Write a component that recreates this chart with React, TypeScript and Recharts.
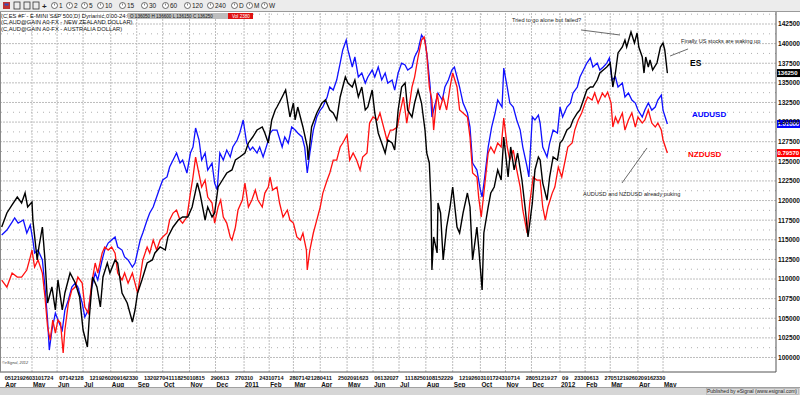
import React from 'react';
import { LineChart, Line, XAxis, YAxis, ReferenceLine } from 'recharts';

const FONT = '"Liberation Sans", Arial, sans-serif';

// x = calendar days since Monday 2010-03-29
const ES_POINTS: [number, number][] = [
  [0,1166.3],[6,1184.2],[12,1194.4],[18,1204.5],[23,1196.9],[27,1209.6],[30,1191.8],[35,1198.2],[36,1175.2],[41,1124.3],
  [43,1140.8],[47,1166.3],[50,1124.3],[53,1069.5],[58,1089.9],[62,1060.5],[65,1098.8],[70,1060.5],[73,1082.2],[79,1107.7],
  [85,1094.9],[90,1077.1],[94,1035.0],[99,1013.4],[101,1047.8],[105,1102.6],[110,1089.9],[114,1064.4],[117,1102.6],[122,1120.4],
  [125,1107.7],[131,1124.3],[134,1120.4],[139,1082.2],[145,1069.5],[151,1045.2],[154,1060.5],[157,1082.2],[162,1098.8],[168,1120.4],
  [174,1124.3],[177,1133.2],[183,1140.8],[189,1137.0],[192,1153.6],[198,1166.3],[204,1175.2],[209,1179.1],[215,1179.1],[220,1191.8],
  [226,1222.4],[229,1209.6],[235,1175.2],[238,1191.8],[243,1179.1],[246,1184.2],[250,1217.3],[255,1226.2],[260,1235.1],[266,1239.0],
  [270,1251.7],[275,1255.5],[281,1260.6],[285,1273.4],[290,1281.0],[295,1289.9],[301,1293.8],[304,1286.1],[308,1273.4],[312,1302.7],
  [316,1315.4],[318,1319.2],[324,1332.0],[328,1340.9],[333,1306.5],[337,1324.3],[339,1302.7],[342,1319.2],[348,1293.8],[353,1268.3],
  [354,1251.7],[358,1293.8],[364,1311.6],[370,1324.3],[374,1328.2],[379,1315.4],[383,1311.6],[387,1302.7],[391,1332.0],[397,1357.5],
  [400,1349.8],[405,1344.7],[408,1353.6],[412,1332.0],[416,1344.7],[420,1315.4],[423,1319.2],[428,1340.9],[431,1311.6],[435,1286.1],
  [439,1273.4],[443,1260.6],[446,1277.2],[451,1273.4],[454,1264.4],[458,1315.4],[462,1344.7],[466,1349.8],[469,1315.4],[474,1306.5],
  [477,1324.3],[481,1340.9],[485,1324.3],[489,1289.9],[491,1260.6],[494,1247.9],[496,1196.9],[497,1111.5],[499,1153.6],[503,1133.2],
  [504,1196.9],[507,1184.2],[510,1124.3],[514,1166.3],[518,1191.8],[521,1217.3],[526,1166.3],[529,1158.7],[533,1184.2],[538,1209.6],
  [541,1191.8],[544,1124.3],[549,1166.3],[551,1140.8],[555,1086.0],[557,1158.7],[562,1191.8],[565,1209.6],[569,1217.3],[573,1239.0],
  [577,1226.2],[580,1281.0],[585,1230.0],[588,1268.3],[592,1239.0],[596,1260.6],[601,1226.2],[605,1188.0],[608,1153.6],[613,1196.9],
  [616,1239.0],[620,1255.5],[622,1251.7],[625,1222.4],[630,1200.7],[633,1230.0],[637,1255.5],[642,1251.7],[645,1273.4],[648,1277.2],
  [653,1289.9],[657,1293.8],[660,1302.7],[665,1311.6],[668,1315.4],[672,1328.2],[676,1340.9],[680,1344.7],[683,1344.7],[688,1353.6],
  [691,1362.6],[695,1366.4],[699,1370.2],[703,1375.3],[706,1344.7],[709,1362.6],[712,1388.1],[717,1395.7],[720,1404.6],[722,1395.7],
  [727,1414.8],[731,1400.8],[734,1413.5],[736,1395.7],[740,1383.0],[742,1362.6],[744,1383.0],[747,1370.2],[749,1379.1],[752,1366.4],
  [757,1375.3],[761,1395.7],[764,1400.8],[766,1391.9],[769,1362.5]
];

const AUD_POINTS: [number, number][] = [
  [0,0.9197],[6,0.9241],[12,0.9312],[15,0.9348],[19,0.9303],[25,0.9330],[29,0.9215],[33,0.9286],[36,0.9153],[38,0.9038],
  [42,0.9064],[47,0.8976],[50,0.8737],[53,0.8445],[55,0.8179],[58,0.8356],[62,0.8507],[65,0.8445],[70,0.8356],[73,0.8533],
  [77,0.8622],[81,0.8737],[85,0.8772],[88,0.8737],[93,0.8595],[96,0.8472],[100,0.8533],[104,0.8737],[108,0.8861],[111,0.8799],
  [116,0.8976],[119,0.9064],[123,0.9126],[127,0.9153],[131,0.9180],[134,0.9091],[139,0.9064],[142,0.9003],[146,0.8976],[151,0.8914],
  [154,0.8949],[160,0.9153],[163,0.9215],[168,0.9330],[171,0.9392],[175,0.9445],[179,0.9534],[183,0.9622],[186,0.9684],[191,0.9711],
  [194,0.9799],[198,0.9861],[202,0.9923],[206,0.9834],[209,0.9861],[214,0.9746],[218,0.9923],[221,0.9976],[224,1.0144],[228,1.0038],
  [231,0.9861],[235,0.9923],[238,0.9772],[243,0.9834],[246,0.9657],[249,0.9595],[252,0.9923],[256,0.9861],[260,0.9949],[264,0.9888],
  [267,0.9976],[272,1.0038],[275,1.0100],[279,1.0215],[283,1.0011],[287,0.9949],[290,0.9976],[295,0.9923],[298,0.9976],[302,0.9888],
  [307,1.0011],[310,1.0100],[313,1.0126],[318,1.0126],[324,0.9976],[327,1.0065],[331,1.0011],[335,1.0153],[339,1.0126],[342,1.0100],
  [347,1.0065],[350,0.9976],[353,0.9746],[356,0.9923],[360,1.0126],[364,1.0242],[368,1.0303],[371,1.0330],[376,1.0419],[379,1.0507],
  [383,1.0480],[387,1.0569],[391,1.0719],[394,1.0835],[398,1.0923],[400,1.0835],[405,1.0684],[408,1.0773],[412,1.0596],[416,1.0631],
  [420,1.0542],[423,1.0596],[428,1.0657],[431,1.0596],[435,1.0684],[439,1.0569],[443,1.0631],[446,1.0542],[451,1.0569],[454,1.0480],
  [458,1.0631],[462,1.0719],[466,1.0702],[469,1.0657],[474,1.0684],[477,1.0773],[481,1.0835],[485,1.0967],[489,1.0923],[492,1.0746],
  [495,1.0507],[497,1.0242],[501,1.0365],[504,1.0454],[509,1.0392],[512,1.0507],[516,1.0569],[520,1.0657],[523,1.0684],[526,1.0596],
  [529,1.0507],[533,1.0365],[538,1.0277],[541,1.0153],[544,0.9834],[549,0.9772],[553,0.9595],[555,0.9534],[558,0.9711],[562,0.9976],
  [566,1.0153],[570,1.0277],[573,1.0392],[578,1.0330],[580,1.0675],[584,1.0507],[587,1.0365],[591,1.0330],[595,1.0215],[599,1.0126],
  [602,0.9976],[607,0.9799],[609,0.9711],[613,1.0242],[616,1.0215],[620,1.0259],[622,1.0188],[625,0.9976],[630,0.9888],[633,1.0011],
  [637,1.0126],[642,1.0100],[645,1.0330],[648,1.0242],[653,1.0330],[657,1.0365],[660,1.0454],[665,1.0507],[668,1.0596],[672,1.0657],
  [676,1.0719],[680,1.0764],[683,1.0684],[688,1.0719],[691,1.0657],[695,1.0684],[699,1.0719],[702,1.0764],[705,1.0569],[709,1.0596],
  [712,1.0507],[717,1.0542],[720,1.0419],[724,1.0454],[728,1.0392],[732,1.0365],[735,1.0303],[740,1.0242],[743,1.0303],[747,1.0365],
  [751,1.0303],[755,1.0330],[758,1.0392],[762,1.0436],[764,1.0303],[769,1.0180]
];

const NZD_POINTS: [number, number][] = [
  [0,0.7034],[6,0.6983],[12,0.7085],[18,0.7056],[23,0.7056],[29,0.7107],[33,0.7201],[35,0.7252],[38,0.7129],[42,0.7180],
  [47,0.7085],[50,0.6911],[53,0.6693],[56,0.6598],[59,0.6744],[62,0.6649],[65,0.6744],[68,0.6722],[71,0.6504],[73,0.6671],
  [77,0.6867],[81,0.6962],[85,0.6983],[88,0.7056],[93,0.7012],[96,0.6838],[100,0.6794],[104,0.7012],[108,0.7158],[111,0.7085],
  [116,0.7230],[119,0.7274],[123,0.7252],[127,0.7274],[131,0.7230],[134,0.7085],[139,0.7034],[142,0.7085],[146,0.7012],[151,0.7085],
  [154,0.7012],[157,0.6940],[160,0.7056],[163,0.7180],[168,0.7274],[171,0.7230],[175,0.7325],[179,0.7252],[183,0.7325],[186,0.7347],
  [191,0.7376],[194,0.7470],[198,0.7521],[202,0.7543],[206,0.7470],[209,0.7448],[214,0.7492],[218,0.7666],[221,0.7783],[224,0.7928],
  [227,0.7834],[231,0.7710],[235,0.7761],[238,0.7637],[243,0.7594],[246,0.7448],[250,0.7565],[253,0.7616],[256,0.7492],[260,0.7448],
  [264,0.7347],[266,0.7325],[270,0.7419],[273,0.7543],[278,0.7616],[281,0.7739],[285,0.7565],[289,0.7616],[293,0.7688],[296,0.7616],
  [301,0.7565],[304,0.7666],[308,0.7710],[310,0.7783],[313,0.7688],[318,0.7710],[321,0.7594],[325,0.7492],[330,0.7543],[333,0.7470],
  [337,0.7448],[341,0.7347],[345,0.7325],[348,0.7376],[352,0.7252],[353,0.7107],[356,0.7252],[360,0.7376],[364,0.7470],[368,0.7565],
  [371,0.7666],[376,0.7761],[379,0.7812],[383,0.7906],[387,0.7906],[391,0.8001],[394,0.8030],[399,0.8088],[402,0.7906],[406,0.7957],
  [410,0.7906],[414,0.7834],[417,0.7928],[422,0.7957],[425,0.8175],[429,0.8219],[434,0.8197],[437,0.8248],[440,0.8175],[445,0.8052],
  [449,0.8124],[452,0.8124],[457,0.8146],[460,0.8248],[464,0.8364],[468,0.8175],[474,0.8437],[477,0.8509],[481,0.8655],[485,0.8778],
  [488,0.8800],[491,0.8684],[494,0.8437],[497,0.8342],[499,0.8124],[503,0.8393],[506,0.8270],[510,0.8364],[514,0.8270],[518,0.8437],
  [521,0.8539],[526,0.8437],[529,0.8270],[533,0.8248],[538,0.8219],[541,0.8073],[544,0.7812],[549,0.7783],[551,0.7637],[554,0.7492],
  [557,0.7666],[562,0.7957],[565,0.8001],[569,0.7957],[573,0.8030],[577,0.8001],[580,0.8211],[584,0.8001],[587,0.7906],[591,0.7979],
  [595,0.7834],[599,0.7710],[602,0.7543],[607,0.7376],[610,0.7594],[614,0.7783],[618,0.7761],[622,0.7761],[625,0.7565],[628,0.7470],
  [631,0.7565],[636,0.7666],[639,0.7710],[643,0.7855],[647,0.7783],[651,0.7906],[654,0.8001],[659,0.8030],[662,0.8124],[666,0.8197],
  [670,0.8248],[674,0.8320],[677,0.8364],[682,0.8342],[685,0.8393],[689,0.8320],[694,0.8393],[697,0.8364],[700,0.8400],[704,0.8320],
  [706,0.8146],[709,0.8219],[712,0.8175],[717,0.8248],[720,0.8124],[724,0.8197],[728,0.8248],[732,0.8146],[735,0.8219],[740,0.8175],
  [743,0.8197],[747,0.8270],[751,0.8175],[755,0.8146],[758,0.8175],[762,0.8124],[764,0.8052],[769,0.7957]
];

const ES_TICKS = [1000,1025,1050,1075,1100,1125,1150,1175,1200,1225,1250,1275,1300,1325,1350,1375,1400,1425];

const DAY_LABELS: [number, string][] = [
  [7,'05'],[14,'12'],[21,'19'],[28,'26'],[35,'03'],[42,'10'],[49,'17'],[56,'24'],
  [70,'07'],[77,'14'],[84,'21'],[91,'28'],
  [105,'12'],[112,'19'],[119,'26'],[126,'02'],[133,'09'],[140,'16'],[147,'23'],[154,'30'],
  [168,'13'],[175,'20'],[182,'27'],[189,'04'],[196,'11'],[203,'18'],[210,'25'],[217,'01'],[224,'08'],[231,'15'],
  [245,'29'],[252,'06'],[259,'13'],
  [273,'27'],[280,'03'],[287,'10'],
  [301,'24'],[308,'31'],[315,'07'],[322,'14'],
  [336,'28'],[343,'07'],[350,'14'],[357,'21'],[364,'28'],[371,'04'],[378,'11'],
  [392,'25'],[399,'02'],[406,'09'],[413,'16'],[420,'23'],
  [434,'06'],[441,'13'],[448,'20'],[455,'27'],
  [469,'11'],[476,'18'],[483,'25'],[490,'01'],[497,'08'],[504,'15'],[511,'22'],[518,'29'],
  [532,'12'],[539,'19'],[546,'26'],[553,'03'],[560,'10'],[567,'17'],[574,'24'],[581,'31'],[588,'07'],[595,'14'],
  [609,'28'],[616,'05'],[623,'12'],[630,'19'],[638,'27'],
  [651,'09'],
  [665,'23'],[672,'30'],[679,'06'],[686,'13'],
  [700,'27'],[707,'05'],[714,'12'],[721,'19'],[728,'26'],[735,'02'],[742,'09'],[749,'16'],[756,'23'],[763,'30']
];

const MONTH_LABELS: [number, string][] = [
  [3,'Apr'],[35,'May'],[64,'Jun'],[94,'Jul'],[126,'Aug'],[156,'Sep'],[186,'Oct'],[217,'Nov'],[247,'Dec'],
  [280,'2011'],[309,'Feb'],[337,'Mar'],[368,'Apr'],[399,'May'],[429,'Jun'],[459,'Jul'],[490,'Aug'],[521,'Sep'],
  [553,'Oct'],[582,'Nov'],[612,'Dec'],[645,'2012'],[674,'Feb'],[703,'Mar'],[735,'Apr'],[764,'May']
];

const TOOLBAR_ITEMS: [number, string][] = [
  [52,'1'],[67,'2'],[82,'5'],[98,'10'],[120,'15'],[142,'30'],[163,'60'],[185,'120'],[208,'240'],[232,'D'],[247,'M'],[262,'W']
];

const esData = ES_POINTS.map(([d, v]) => ({ d, v }));
const audData = AUD_POINTS.map(([d, v]) => ({ d, v }));
const nzdData = NZD_POINTS.map(([d, v]) => ({ d, v }));

const dayMap = new Map(DAY_LABELS);
const monthMap = new Map(MONTH_LABELS);
const xTicks = Array.from(new Set([...DAY_LABELS.map((a) => a[0]), ...MONTH_LABELS.map((a) => a[0])])).sort((a, b) => a - b);

const XTick = (props: any) => {
  const { x, y, payload } = props;
  const day = dayMap.get(payload.value);
  const mon = monthMap.get(payload.value);
  return (
    <g>
      {day && (
        <text x={x} y={y + 8} textAnchor="middle" fontSize={5.6} fontWeight="bold" fontFamily={FONT} fill="#111">{day}</text>
      )}
      {mon && (
        <text x={x + 1} y={y + 14.5} textAnchor="start" fontSize={6.4} fontWeight="bold" fontFamily={FONT} fill="#111">{mon}</text>
      )}
    </g>
  );
};

const Tag = (props: any) => {
  const { viewBox, text, bg } = props;
  if (!viewBox) return null;
  const x = viewBox.x + viewBox.width + 1;
  const y = viewBox.y;
  return (
    <g>
      <rect x={x} y={y - 4} width={23} height={8} fill={bg} />
      <text x={x + 0.5} y={y + 2.3} fontSize={6} fontWeight="bold" fontFamily={FONT} fill="#fff">{text}</text>
    </g>
  );
};

export default function App() {
  return (
    <div style={{ position: 'fixed', left: 0, top: 0, width: 800, height: 395, background: '#fff', overflow: 'hidden' }}>
      <LineChart width={800} height={395} data={esData} margin={{ top: 12, right: 0, bottom: 0, left: 0 }}>
        <XAxis
          dataKey="d"
          type="number"
          domain={[-1.96, 894.5]}
          allowDataOverflow
          ticks={xTicks}
          interval={0}
          tick={<XTick />}
          tickLine={false}
          tickSize={0}
          tickMargin={0}
          height={23}
          axisLine={{ stroke: '#555' }}
        />
        <YAxis
          yAxisId="es"
          orientation="right"
          domain={[981.5, 1440.3]}
          allowDataOverflow
          ticks={ES_TICKS}
          interval={0}
          width={24}
          tickLine={false}
          tickSize={0}
          tickMargin={2}
          axisLine={{ stroke: '#555' }}
          tick={{ fontSize: 6.6, fill: '#111', fontFamily: FONT, fontWeight: 'bold' }}
          tickFormatter={(v: number) => String(Math.round(v * 100))}
        />
        <YAxis yAxisId="aud" hide domain={[0.7985, 1.1171]} allowDataOverflow />
        <YAxis yAxisId="nzd" hide domain={[0.6366, 0.8982]} allowDataOverflow />

        {ES_TICKS.map((t) => (
          <ReferenceLine key={'h' + t} yAxisId="es" y={t} stroke="#bdbdbd" strokeDasharray="2 1" strokeWidth={1} />
        ))}
        {ES_TICKS.map((t) => (
          <ReferenceLine key={'m' + t} yAxisId="es" y={t + 12.5} stroke="#b0b0b0" strokeDasharray="1 5" strokeWidth={1} />
        ))}
        {MONTH_LABELS.slice(1).map(([d]) => (
          <ReferenceLine key={'v' + d} yAxisId="es" x={d} stroke="#bdbdbd" strokeDasharray="2 1" strokeWidth={1} />
        ))}

        <Line yAxisId="aud" data={audData} dataKey="v" stroke="#1010ff" strokeWidth={1.3} dot={false} isAnimationActive={false} />
        <Line yAxisId="nzd" data={nzdData} dataKey="v" stroke="#ff1010" strokeWidth={1.3} dot={false} isAnimationActive={false} />
        <Line yAxisId="es" data={esData} dataKey="v" stroke="#000" strokeWidth={1.4} dot={false} isAnimationActive={false} />

        <ReferenceLine yAxisId="es" segment={[{ x: 669.3, y: 1417.4 }, { x: 714.3, y: 1411.0 }]} stroke="#444" strokeWidth={0.8} />
        <ReferenceLine yAxisId="es" segment={[{ x: 772.1, y: 1384.2 }, { x: 792.9, y: 1393.2 }]} stroke="#444" strokeWidth={0.8} />
        <ReferenceLine yAxisId="es" segment={[{ x: 745.5, y: 1267.0 }, { x: 716.6, y: 1222.4 }]} stroke="#444" strokeWidth={0.8} />

        <ReferenceLine yAxisId="es" y={1362.5} stroke="none" label={<Tag text="136250" bg="#000" />} />
        <ReferenceLine yAxisId="aud" y={1.018} stroke="none" label={<Tag text="1.01800" bg="#0000ff" />} />
        <ReferenceLine yAxisId="nzd" y={0.7957} stroke="none" label={<Tag text="0.79570" bg="#ff0000" />} />
      </LineChart>

      <svg width={800} height={395} style={{ position: 'absolute', left: 0, top: 0, pointerEvents: 'none' }} fontFamily={FONT}>
        {/* toolbar */}
        <rect x={0} y={0} width={800} height={11} fill="#ececec" />
        <line x1={0} y1={11.5} x2={800} y2={11.5} stroke="#9a9a9a" />
        <rect x={3} y={2} width={7} height={7} fill="#c03030" />
        <rect x={4.5} y={3.5} width={4} height={2} fill="#3050c0" />
        <rect x={14} y={2} width={6} height={7} fill="none" stroke="#333" strokeWidth={0.8} />
        <rect x={24} y={2} width={6} height={7} fill="none" stroke="#333" strokeWidth={0.8} />
        <rect x={33} y={2} width={6} height={7} fill="none" stroke="#333" strokeWidth={0.8} />
        <text x={42} y={9} fontSize={8} fontWeight="bold" fill="#222">+</text>
        {TOOLBAR_ITEMS.map(([x, t]) => (
          <g key={t + x}>
            <circle cx={x + 2.5} cy={5.5} r={3} fill="#fff" stroke="#333" strokeWidth={0.7} />
            <line x1={x + 2.5} y1={5.5} x2={x + 2.5} y2={3.5} stroke="#333" strokeWidth={0.6} />
            <text x={x + 7} y={8.3} fontSize={6.5} fill="#222">{t}</text>
          </g>
        ))}

        {/* header */}
        <text x={1} y={17.6} fontSize={5.8} fill="#111">(C,ES #F - E-MINI S&amp;P 500,D) Dynamic,0:00-24:00</text>
        <rect x={128} y={13} width={100} height={6} fill="#bdbdbd" />
        <text x={130} y={17.6} fontSize={4.6} fill="#111">O  136050   H  136600   L  136150   C  136250</text>
        <rect x={228} y={13} width={25} height={6} fill="#e01010" />
        <text x={232} y={17.6} fontSize={4.6} fill="#fff">Vol  2380</text>
        <text x={1} y={24.2} fontSize={5.8} fill="#111">(C,AUD@GAIN A0-FX - NEW ZEALAND DOLLAR)</text>
        <text x={1} y={30.6} fontSize={5.8} fill="#111">(C,AUD@GAIN A0-FX - AUSTRALIA DOLLAR)</text>

        <line x1={0.5} y1={12} x2={0.5} y2={372} stroke="#888" />

        {/* annotations */}
        <text x={512} y={22} fontSize={5.6} fill="#222">Tried to go alone but failed?</text>
        <text x={681} y={43} fontSize={5.6} fill="#222">Finally US stocks are waking up</text>
        <text x={690} y={66} fontSize={8.5} fontWeight="bold" fill="#000">ES</text>
        <text x={692} y={117} fontSize={8} fontWeight="bold" fill="#0000ff">AUDUSD</text>
        <text x={688} y={157} fontSize={8} fontWeight="bold" fill="#ff0000">NZDUSD</text>
        <text x={583} y={196} fontSize={5.6} fill="#222">AUDUSD and NZDUSD already puking</text>
        <text x={2} y={364} fontSize={3.8} fontStyle="italic" fill="#444">©eSignal, 2012</text>

        {/* status bar */}
        <rect x={0} y={387} width={800} height={8} fill="#d6d6d6" />
        <line x1={0} y1={387.5} x2={800} y2={387.5} stroke="#a0a0a0" />
        <rect x={706.5} y={388.5} width={92} height={6} fill="#dcdcdc" stroke="#a8a8a8" strokeWidth={0.6} />
        <text x={797} y={393.4} textAnchor="end" fontSize={5} fill="#222">Published by eSignal (www.esignal.com)</text>
      </svg>
    </div>
  );
}
